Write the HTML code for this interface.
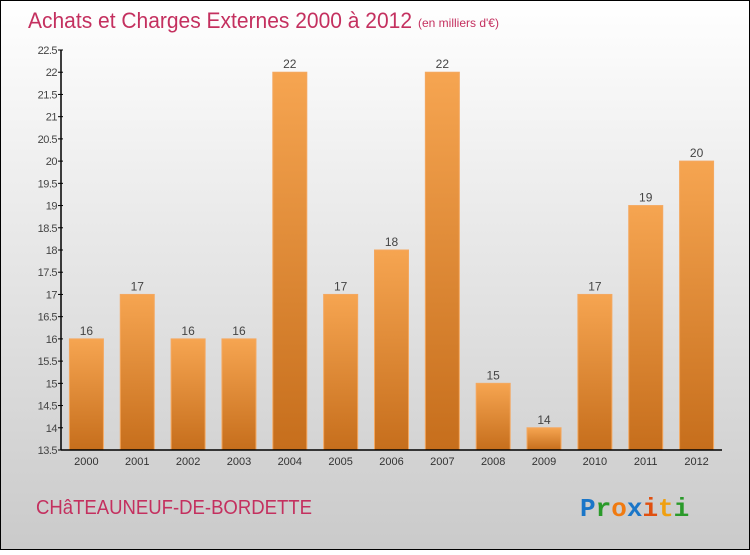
<!DOCTYPE html>
<html><head><meta charset="utf-8"><style>
body{margin:0;width:750px;height:550px;overflow:hidden;font-family:"Liberation Sans",sans-serif}
</style></head><body>
<svg id="chart" width="750" height="550" xmlns="http://www.w3.org/2000/svg">
<defs>
<linearGradient id="bg" x1="0" y1="0" x2="0" y2="1"><stop offset="0" stop-color="#ffffff"/><stop offset="1" stop-color="#cacaca"/></linearGradient>
<linearGradient id="bar" x1="0" y1="0" x2="0" y2="1"><stop offset="0" stop-color="#f6a551"/><stop offset="1" stop-color="#c66e1c"/></linearGradient>
</defs>
<rect x="0.5" y="0.5" width="749" height="549" fill="url(#bg)" stroke="#000"/>
<text x="28" y="28" font-size="22" fill="#c4305f" textLength="384" lengthAdjust="spacingAndGlyphs">Achats et Charges Externes 2000 à 2012</text>
<text x="418" y="27" font-size="12" fill="#c4305f">(en milliers d'€)</text>
<text x="36" y="514" font-size="20" fill="#c4305f" textLength="276" lengthAdjust="spacingAndGlyphs">CHâTEAUNEUF-DE-BORDETTE</text>
<text x="580" y="516" font-size="26" font-weight="bold" font-family="Liberation Mono,monospace"><tspan fill="#1a76c8">P</tspan><tspan fill="#2a9a2a">r</tspan><tspan fill="#f07a10">o</tspan><tspan fill="#1a76c8">x</tspan><tspan fill="#e05010">i</tspan><tspan fill="#f0a010">t</tspan><tspan fill="#2a9a2a">i</tspan></text>
<g id="plot"></g>
</svg>
<script>
const categories=["2000","2001","2002","2003","2004","2005","2006","2007","2008","2009","2010","2011","2012"];
const values=[16,17,16,16,22,17,18,22,15,14,17,19,20];
const labels=["16","17","16","16","22","17","18","22","15","14","17","19","20"];
const yTicks=[13.5,14,14.5,15,15.5,16,16.5,17,17.5,18,18.5,19,19.5,20,20.5,21,21.5,22,22.5];
const yMin=13.5,yMax=22.5,plotTop=50,plotBot=450,x0=61,x1=722;
const y=v=>plotBot-(v-yMin)/(yMax-yMin)*(plotBot-plotTop);
const step=(x1-x0)/categories.length;
const xc=i=>x0+step*(i+0.5);
const ns="http://www.w3.org/2000/svg",g=document.getElementById('plot');
function mk(t,a){const e=document.createElementNS(ns,t);for(const k in a)e.setAttribute(k,a[k]);g.appendChild(e);return e;}
values.forEach((v,i)=>{
 const r=mk('rect',{x:xc(i)-17,y:y(v),width:34,height:plotBot-y(v),fill:'url(#bar)',stroke:'#f4a860','stroke-width':1});
 
 
 const t=mk('text',{x:xc(i),y:y(v)-4,'text-anchor':'middle','font-size':12,fill:'#444'});
 t.textContent=labels[i];
 
 
 const c=mk('text',{x:xc(i),y:plotBot+15,'text-anchor':'middle','font-size':11,fill:'#333'});
 c.textContent=categories[i];
 
 
});
yTicks.forEach(v=>{
 const l=mk('line',{x1:x0-3,x2:x0+2,y1:y(v),y2:y(v),stroke:'#000'});
 
 
 const t=mk('text',{x:x0-4,y:y(v)+4,'text-anchor':'end','font-size':11,fill:'#444','letter-spacing':'-0.5'});
 t.textContent=String(v);
 
 
});
const ya=mk('line',{x1:x0,x2:x0,y1:plotTop,y2:plotBot,stroke:'#000','stroke-width':1.5});


const xa=mk('line',{x1:x0,x2:x1,y1:plotBot,y2:plotBot,stroke:'#000','stroke-width':1.5});


</script>
</body></html>
